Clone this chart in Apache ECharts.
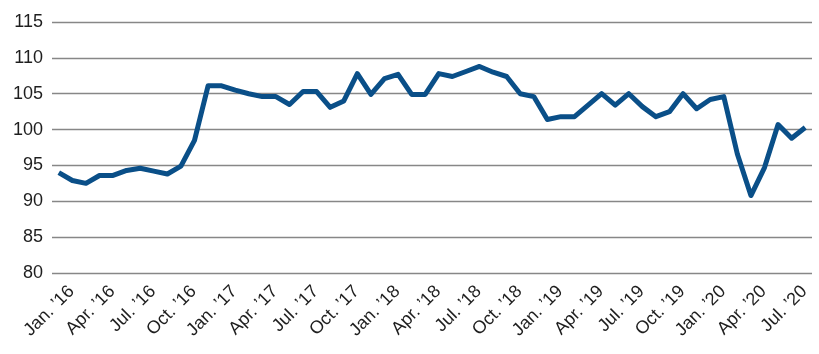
<!DOCTYPE html>
<html><head><meta charset="utf-8">
<script src="https://cdn.jsdelivr.net/npm/echarts@6/dist/echarts.min.js"></script>
<style>html,body{margin:0;padding:0;background:#fff}#c{width:819px;height:354px}</style>
</head><body><div id="c"></div>
<script>
const months = ['Jan.','Feb.','Mar.','Apr.','May','Jun.','Jul.','Aug.','Sep.','Oct.','Nov.','Dec.'];
const years = ['16','17','18','19','20'];
const categories = [];
for (const y of years) for (const m of months) categories.push(m + ' \u2019' + y);
categories.length = 56; // Jan. '16 – Aug. '20
const values = [
  94.0, 92.9, 92.5, 93.6, 93.6, 94.3, 94.6, 94.2, 93.8, 94.9, 98.5, 106.1,
  106.1, 105.5, 105.0, 104.6, 104.6, 103.5, 105.3, 105.3, 103.1, 104.0, 107.8, 104.9,
  107.1, 107.7, 104.9, 104.9, 107.8, 107.4, 108.1, 108.8, 108.0, 107.4, 105.0, 104.6,
  101.4, 101.8, 101.8, 103.4, 105.0, 103.4, 105.0, 103.2, 101.8, 102.5, 105.0, 102.9,
  104.2, 104.6, 96.6, 90.8, 94.7, 100.7, 98.8, 100.3
];
const yTicks = {min: 80, max: 115, interval: 5};

const chart = echarts.init(document.getElementById('c'));
chart.setOption({
  animation: false,
  grid: {left: 52, right: 7, top: 22, bottom: 81, containLabel: false, outerBoundsMode: 'none'},
  xAxis: {
    type: 'category', data: categories, boundaryGap: true,
    axisLine: {show: false}, axisTick: {show: false},
    axisLabel: {interval: 0, rotate: 45, margin: 3, fontSize: 18, lineHeight: 36,
      verticalAlign: 'middle', hideOverlap: false,
      formatter: (v, i) => (i % 3 === 0 ? '\n' + v : ''),
      fontFamily: 'Liberation Sans, Arial, sans-serif', color: '#1e1e1e'}
  },
  yAxis: {
    type: 'value', min: yTicks.min, max: yTicks.max, interval: yTicks.interval,
    axisLine: {show: false}, axisTick: {show: false},
    splitLine: {lineStyle: {color: '#878787', width: 1.3}},
    axisLabel: {margin: 9, fontSize: 18, fontFamily: 'Liberation Sans, Arial, sans-serif', color: '#1e1e1e'}
  },
  series: [{
    type: 'line', data: values, symbol: 'none',
    lineStyle: {color: '#0a4f88', width: 5, join: 'round'}
  }]
});
</script></body></html>
